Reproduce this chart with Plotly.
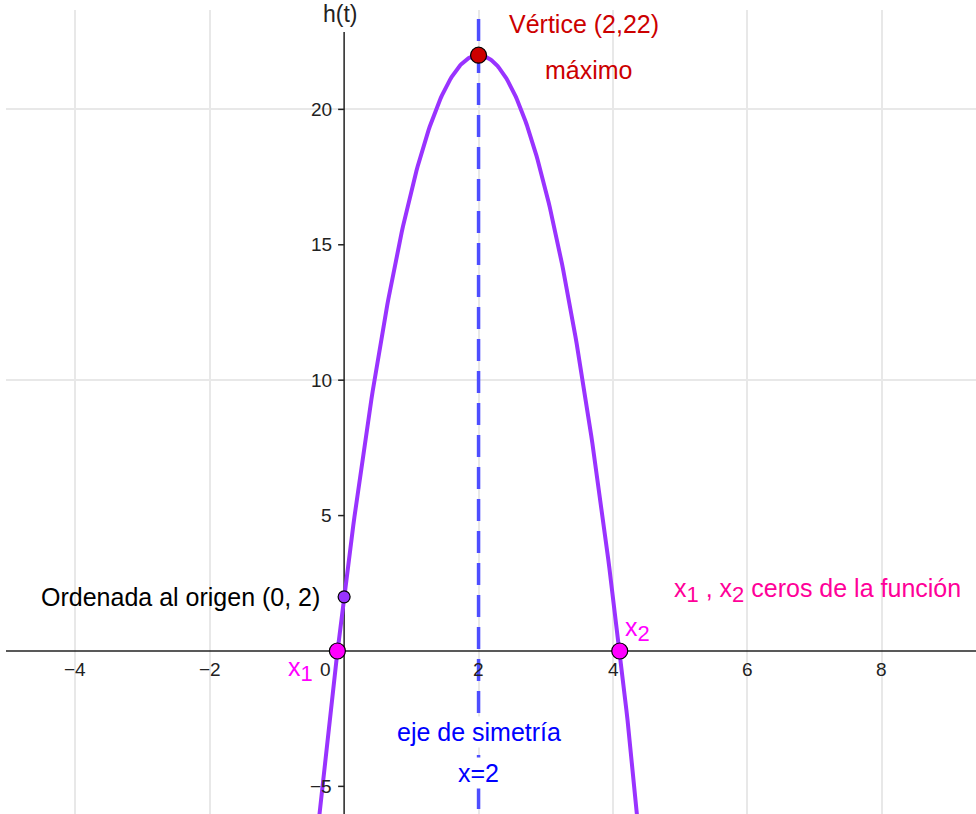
import numpy as np
import plotly.graph_objects as go

# h(t) = a t^2 + b t + c
coef_a, coef_b, coef_c = -5, 20, 2

vertex = (2, 22)
intercept = (0, 2)
zeros_x = [-0.1, 4.1]

x_tick_vals = [-4, -2, 2, 4, 6, 8]
x_tick_text = ["\u22124", "\u22122", "2", "4", "6", "8"]
y_tick_vals = [-5, 5, 10, 15, 20]
y_tick_text = ["\u22125", "5", "10", "15", "20"]

x_range = [-5.03, 9.40]
y_range = [-6.02, 23.67]

FONT = "Liberation Sans, Arial, Helvetica, sans-serif"
PURPLE = "#9933FF"
DASH_BLUE = "#4D4DFF"
AXIS = "#222222"


def sub(s):
    return "<sub><span style='font-size:22px'>" + s + "</span></sub>"


t = np.linspace(x_range[0], x_range[1], 800)
h = coef_a * t**2 + coef_b * t + coef_c

fig = go.Figure()

# axis of symmetry
fig.add_trace(go.Scatter(x=[vertex[0], vertex[0]], y=[y_range[0] - 1, y_range[1] + 1],
                         mode="lines", line=dict(color=DASH_BLUE, width=3.5, dash="22px,10px"),
                         hoverinfo="skip", showlegend=False))
# parabola
fig.add_trace(go.Scatter(x=t, y=h, mode="lines", line=dict(color=PURPLE, width=4),
                         showlegend=False))
# points
fig.add_trace(go.Scatter(x=[intercept[0]], y=[intercept[1]], mode="markers",
                         marker=dict(size=12, color=PURPLE, line=dict(color="black", width=1.2)),
                         showlegend=False, cliponaxis=False))
fig.add_trace(go.Scatter(x=zeros_x, y=[0, 0], mode="markers",
                         marker=dict(size=16, color="#FF00FF", line=dict(color="black", width=1.2)),
                         showlegend=False, cliponaxis=False))
fig.add_trace(go.Scatter(x=[vertex[0]], y=[vertex[1]], mode="markers",
                         marker=dict(size=16, color="#CC0000", line=dict(color="black", width=1.2)),
                         showlegend=False, cliponaxis=False))

# axis lines
fig.add_shape(type="line", xref="x", yref="y", x0=x_range[0], x1=x_range[1], y0=0, y1=0,
              line=dict(color=AXIS, width=1.5), layer="between")
fig.add_shape(type="line", xref="x", yref="y", x0=0, x1=0, y0=y_range[0], y1=22.86,
              line=dict(color=AXIS, width=1.5), layer="between")

# y tick marks
for v in y_tick_vals:
    fig.add_shape(type="line", xref="x", yref="y", xsizemode="pixel", xanchor=0,
                  x0=-6, x1=0, y0=v, y1=v, line=dict(color=AXIS, width=1.5), layer="between")

TICK_FONT = dict(size=19, color=AXIS, family=FONT)
annotations = []
for v, s in zip(x_tick_vals, x_tick_text):
    annotations.append(dict(x=v, y=0, text=s, showarrow=False, xanchor="center", yanchor="middle",
                            yshift=-19, font=TICK_FONT))
annotations.append(dict(x=0, y=0, text="0", showarrow=False, xanchor="right", yanchor="middle",
                        xshift=-11, yshift=-19, font=TICK_FONT))
for v, s in zip(y_tick_vals, y_tick_text):
    annotations.append(dict(x=0, y=v, text=s, showarrow=False, xanchor="right", yanchor="middle",
                            xshift=-10, font=TICK_FONT))

annotations += [
    dict(x=0, xref="x", y=1.0, yref="paper", text="h(t)", showarrow=False, xanchor="center",
         yanchor="middle", xshift=-4, yshift=-4, font=dict(size=23, color=AXIS, family=FONT)),
    dict(x=3.57, y=23.15, text="V\u00e9rtice (2,22)", showarrow=False, xanchor="center",
         yanchor="middle", font=dict(size=25, color="#CC0000", family=FONT)),
    dict(x=3.64, y=21.45, text="m\u00e1ximo", showarrow=False, xanchor="center",
         yanchor="middle", font=dict(size=25, color="#CC0000", family=FONT)),
    dict(x=-0.327, y=1.99, text="Ordenada al origen (0, 2)", showarrow=False, xanchor="right",
         yanchor="middle", font=dict(size=25, color="black", family=FONT)),
    dict(x=4.88, y=2.25, text="x" + sub("1") + " , x" + sub("2") + " ceros de la funci\u00f3n",
         showarrow=False, xanchor="left", yanchor="middle",
         font=dict(size=25, color="#FF0099", family=FONT)),
    dict(x=4.37, y=0.78, text="x" + sub("2"), showarrow=False, xanchor="center",
         yanchor="middle", font=dict(size=25, color="#FF00FF", family=FONT)),
    dict(x=-0.65, y=-0.70, text="x" + sub("1"), showarrow=False, xanchor="center",
         yanchor="middle", font=dict(size=25, color="#FF00FF", family=FONT)),
    dict(x=2, y=-2.99, text="eje de simetr\u00eda", showarrow=False, xanchor="center",
         yanchor="middle", bgcolor="white", font=dict(size=25, color="#0000FF", family=FONT)),
    dict(x=2, y=-4.5, text="x=2", showarrow=False, xanchor="center",
         yanchor="middle", bgcolor="white", font=dict(size=25, color="#0000FF", family=FONT)),
]

fig.update_layout(
    width=976, height=814,
    margin=dict(l=6, r=0, t=10, b=0),
    paper_bgcolor="white", plot_bgcolor="white",
    showlegend=False,
    annotations=annotations,
    xaxis=dict(range=x_range, showticklabels=False, ticks="", zeroline=False,
               showgrid=True, gridcolor="#E8E8E8", gridwidth=1.5,
               tickmode="array", tickvals=[-4, -2, 2, 4, 6, 8], showline=False,
               fixedrange=True),
    yaxis=dict(range=y_range, showticklabels=False, ticks="", zeroline=False,
               showgrid=True, gridcolor="#E8E8E8", gridwidth=1.5,
               tickmode="array", tickvals=[10, 20], showline=False, fixedrange=True),
)

fig.write_html("out.html", config={"displayModeBar": False})
